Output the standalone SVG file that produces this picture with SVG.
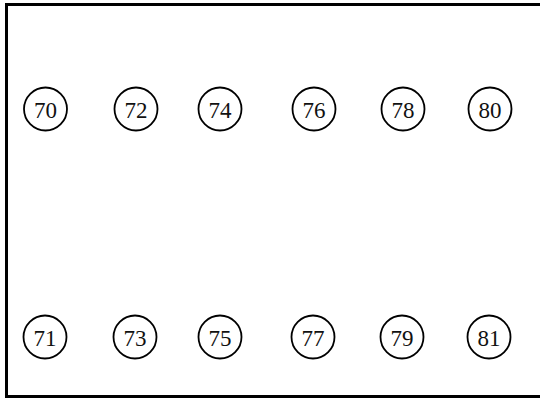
<svg xmlns="http://www.w3.org/2000/svg" width="540" height="400" viewBox="0 0 540 400">
<style>
.n circle{fill:#fff;stroke:#000;stroke-width:1.8}
.n text{font-family:"Liberation Serif","DejaVu Serif",serif;font-size:23px;fill:#111;text-anchor:middle;dominant-baseline:central}
</style>
<rect x="0" y="0" width="540" height="400" fill="#fff"/>
<rect id="frame" x="6.5" y="4.5" width="545" height="392" fill="none" stroke="#000" stroke-width="3"/>
<g id="connectors"/>
<g id="n70" class="n"><circle cx="45.5" cy="109" r="21.5"/><text x="45.5" y="110">70</text></g>
<g id="n72" class="n"><circle cx="136" cy="109" r="21.5"/><text x="136" y="110">72</text></g>
<g id="n74" class="n"><circle cx="220" cy="109" r="21.5"/><text x="220" y="110">74</text></g>
<g id="n76" class="n"><circle cx="314" cy="109" r="21.5"/><text x="314" y="110">76</text></g>
<g id="n78" class="n"><circle cx="403" cy="109" r="21.5"/><text x="403" y="110">78</text></g>
<g id="n80" class="n"><circle cx="490" cy="109" r="21.5"/><text x="490" y="110">80</text></g>
<g id="n71" class="n"><circle cx="45" cy="337" r="21.5"/><text x="45" y="338">71</text></g>
<g id="n73" class="n"><circle cx="135" cy="337" r="21.5"/><text x="135" y="338">73</text></g>
<g id="n75" class="n"><circle cx="220" cy="337" r="21.5"/><text x="220" y="338">75</text></g>
<g id="n77" class="n"><circle cx="313" cy="337" r="21.5"/><text x="313" y="338">77</text></g>
<g id="n79" class="n"><circle cx="402" cy="337" r="21.5"/><text x="402" y="338">79</text></g>
<g id="n81" class="n"><circle cx="489" cy="337" r="21.5"/><text x="489" y="338">81</text></g>
</svg>
